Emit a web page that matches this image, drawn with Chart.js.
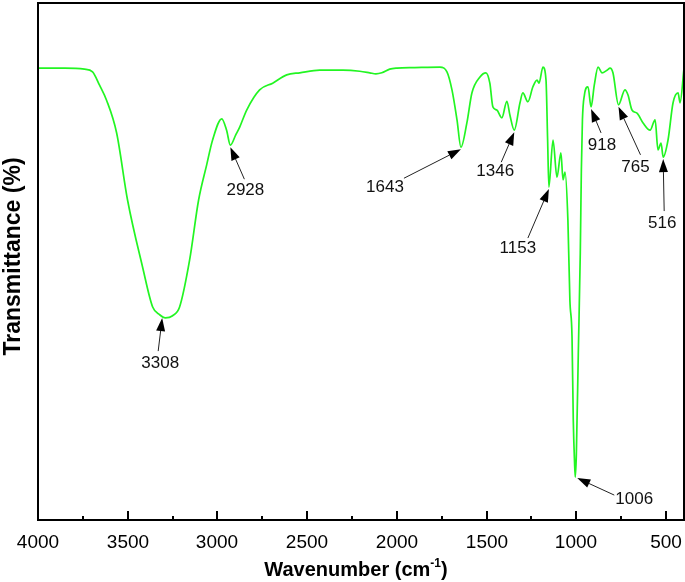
<!DOCTYPE html>
<html lang="en">
<head>
    <meta charset="UTF-8">
    <title>FTIR Spectrum</title>
    <script src="https://cdn.jsdelivr.net/npm/chart.js"></script>
    <style>
        html, body {
            margin: 0;
            padding: 0;
            background: #ffffff;
        }

        .chart-box {
            width: 685px;
            height: 582px;
        }
    </style>
</head>
<body>
    <div class="chart-box">
        <canvas id="irChart" width="685" height="582"></canvas>
    </div>

    <script>
        // Spectrum (wavenumber in cm-1, transmittance in arbitrary %)
        const wavenumbers = [
            4000, 3850, 3741, 3696, 3657, 3618, 3562, 3501, 3417, 3361, 3322, 3290, 3250, 3211, 3155, 3105,
            3060, 3027, 2976, 2949, 2928, 2898, 2876, 2837, 2765, 2692, 2614, 2541, 2430, 2300, 2207, 2151,
            2117, 2084, 2040, 2000, 1900, 1760, 1721, 1693, 1665, 1643, 1610, 1582, 1537, 1504, 1482, 1465,
            1443, 1415, 1387, 1370, 1346, 1314, 1298, 1270, 1242, 1219, 1208, 1186, 1169, 1160, 1153, 1130,
            1108, 1086, 1074, 1063, 1047, 1036, 1024, 1017, 1010, 1006, 1000, 989, 978, 972, 966, 955,
            935, 918, 900, 879, 857, 829, 812, 796, 765, 729, 712, 690, 662, 628, 589, 561,
            545, 528, 516, 489, 461, 433, 422, 400
        ];
        const transmittance = [
            87.4, 87.4, 87.2, 86.7, 84.1, 81.2, 74.9, 61.9, 48.9, 41.2, 39.7, 39.1, 39.5, 41.2, 50.3, 61.9,
            68.7, 73.5, 77.6, 75.4, 72.5, 74.5, 76.0, 79.3, 83.2, 84.5, 86.1, 86.5, 87.0, 87.0, 86.8, 86.5,
            86.3, 86.5, 87.2, 87.4, 87.5, 87.6, 86.7, 83.2, 77.4, 72.1, 76.8, 82.6, 85.7, 86.5, 84.5, 79.9,
            79.3, 77.8, 81.0, 78.3, 75.4, 80.7, 82.6, 80.9, 83.8, 85.1, 84.5, 87.6, 85.1, 73.5, 64.4, 73.5,
            66.3, 71.0, 65.8, 67.3, 58.0, 42.6, 35.4, 19.3, 11.2, 8.3, 12.6, 32.3, 51.6, 67.7, 77.4, 82.2,
            83.8, 79.9, 84.1, 87.6, 86.5, 87.0, 87.4, 86.5, 80.3, 83.2, 82.2, 79.3, 78.7, 76.8, 75.4, 77.4,
            71.6, 72.9, 70.2, 73.5, 80.7, 82.6, 80.7, 87.4
        ];

        // Axis ticks
        const majorTicks = [4000, 3500, 3000, 2500, 2000, 1500, 1000, 500];
        const minorTicks = [3750, 3250, 2750, 2250, 1750, 1250, 750];

        // Labelled bands
        const peakPositions = [3308, 2928, 1643, 1346, 1153, 1006, 918, 765, 516];
        const peakLabels = ['3308', '2928', '1643', '1346', '1153', '1006', '918', '765', '516'];

        // arrow tail and label centre, offset in px from the arrow tip
        const arrowTail = [[-4, 33], [14, 32], [-57, 29], [-13, 30], [-21, 49], [37, 17], [10, 24], [22, 48], [1, 52]];
        const labelSpot = [[-2, 45], [15, 43], [-76, 38], [-19, 39], [-31, 59], [57, 21], [11, 36], [17, 60], [-1, 64]];
        const tipGap = [[0, 2], [0, 2], [0, 2], [0, 2], [0, 2], [2, 1], [0, 2], [0, 2], [0, 2]];

        const FONT = '"Liberation Sans", Arial, Helvetica, sans-serif';

        function curveAt(wn) {
            for (let i = 0; i < wavenumbers.length - 1; i++) {
                const a = wavenumbers[i], b = wavenumbers[i + 1];
                if (wn <= a && wn >= b) {
                    const t = (a - wn) / (a - b);
                    return transmittance[i] + t * (transmittance[i + 1] - transmittance[i]);
                }
            }
            return transmittance[transmittance.length - 1];
        }

        function drawArrow(ctx, x1, y1, x2, y2) {
            const ang = Math.atan2(y2 - y1, x2 - x1);
            const headLen = 13, headW = 4.5;
            const bx = x2 - headLen * Math.cos(ang);
            const by = y2 - headLen * Math.sin(ang);
            ctx.beginPath();
            ctx.moveTo(x1, y1);
            ctx.lineTo(bx, by);
            ctx.stroke();
            ctx.beginPath();
            ctx.moveTo(x2, y2);
            ctx.lineTo(bx + headW * Math.sin(ang), by - headW * Math.cos(ang));
            ctx.lineTo(bx - headW * Math.sin(ang), by + headW * Math.cos(ang));
            ctx.closePath();
            ctx.fill();
        }

        const decorPlugin = {
            id: 'irDecor',
            afterDraw(chart) {
                const ctx = chart.ctx;
                const area = chart.chartArea;
                const xs = chart.scales.x;
                const ys = chart.scales.y;

                ctx.save();
                ctx.strokeStyle = '#000';
                ctx.fillStyle = '#000';

                // frame
                ctx.lineWidth = 2;
                ctx.strokeRect(area.left, area.top, area.right - area.left, area.bottom - area.top);

                // inward ticks on the bottom axis + labels
                ctx.font = '19px ' + FONT;
                ctx.textAlign = 'center';
                ctx.textBaseline = 'alphabetic';
                majorTicks.forEach(v => {
                    const px = Math.round(xs.getPixelForValue(v));
                    ctx.beginPath();
                    ctx.moveTo(px, area.bottom);
                    ctx.lineTo(px, area.bottom - 9);
                    ctx.stroke();
                    ctx.fillText(String(v), px, area.bottom + 28);
                });
                minorTicks.forEach(v => {
                    const px = Math.round(xs.getPixelForValue(v));
                    ctx.beginPath();
                    ctx.moveTo(px, area.bottom);
                    ctx.lineTo(px, area.bottom - 4);
                    ctx.stroke();
                });

                // band annotations
                ctx.lineWidth = 1;
                ctx.strokeStyle = '#222';
                ctx.font = '17px ' + FONT;
                ctx.textAlign = 'center';
                ctx.textBaseline = 'middle';
                peakPositions.forEach((wn, i) => {
                    const tx = xs.getPixelForValue(wn) + tipGap[i][0];
                    const ty = ys.getPixelForValue(curveAt(wn)) + tipGap[i][1];
                    ctx.fillStyle = '#000';
                    drawArrow(ctx, tx + arrowTail[i][0], ty + arrowTail[i][1], tx, ty);
                    ctx.fillStyle = '#111';
                    ctx.fillText(peakLabels[i], tx + labelSpot[i][0], ty + labelSpot[i][1]);
                });

                // x axis title with superscript
                ctx.fillStyle = '#000';
                ctx.textBaseline = 'alphabetic';
                ctx.textAlign = 'left';
                const mainTxt = 'Wavenumber (cm';
                const supTxt = '-1';
                const endTxt = ')';
                ctx.font = 'bold 20px ' + FONT;
                const w1 = ctx.measureText(mainTxt).width;
                const w3 = ctx.measureText(endTxt).width;
                ctx.font = 'bold 12px ' + FONT;
                const w2 = ctx.measureText(supTxt).width;
                const total = w1 + w2 + w3;
                const cx = (area.left + area.right) / 2 - 5;
                const x0 = cx - total / 2;
                const base = 576;
                ctx.font = 'bold 20px ' + FONT;
                ctx.fillText(mainTxt, x0, base);
                ctx.font = 'bold 12px ' + FONT;
                ctx.fillText(supTxt, x0 + w1, base - 9);
                ctx.font = 'bold 20px ' + FONT;
                ctx.fillText(endTxt, x0 + w1 + w2, base);

                // y axis title
                ctx.save();
                ctx.translate(14, (area.top + area.bottom) / 2 - 5);
                ctx.rotate(-Math.PI / 2);
                ctx.textAlign = 'center';
                ctx.textBaseline = 'middle';
                ctx.font = 'bold 23px ' + FONT;
                ctx.fillText('Transmittance (%)', 0, 0);
                ctx.restore();

                ctx.restore();
            }
        };

        const points = wavenumbers.map((wn, i) => ({ x: wn, y: transmittance[i] }));

        const ctxIr = document.getElementById('irChart').getContext('2d');
        const irChart = new Chart(ctxIr, {
            type: 'line',
            data: {
                datasets: [{
                    data: points,
                    borderColor: '#22f522',
                    borderWidth: 1.7,
                    pointRadius: 0,
                    fill: false,
                    cubicInterpolationMode: 'monotone'
                }]
            },
            options: {
                responsive: false,
                animation: false,
                events: [],
                layout: {
                    padding: { top: 3, right: 1, left: 0, bottom: 0 }
                },
                plugins: {
                    legend: { display: false },
                    tooltip: { enabled: false }
                },
                scales: {
                    x: {
                        type: 'linear',
                        reverse: true,
                        min: 400,
                        max: 4000,
                        grid: { display: false },
                        border: { display: false },
                        ticks: { display: false },
                        afterFit: scale => {
                            scale.height = 62;
                        }
                    },
                    y: {
                        min: 0,
                        max: 100,
                        grid: { display: false },
                        border: { display: false },
                        ticks: { display: false },
                        afterFit: scale => {
                            scale.width = 38;
                        }
                    }
                }
            },
            plugins: [decorPlugin]
        });
    </script>
</body>
</html>
